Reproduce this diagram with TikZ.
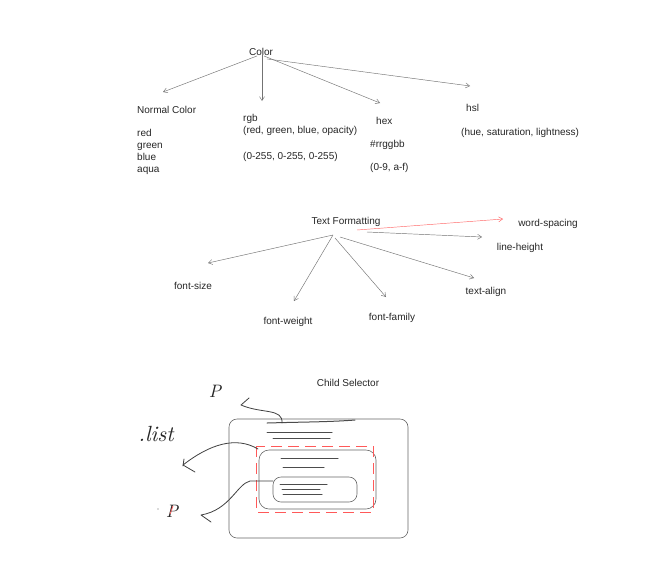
\documentclass[tikz,border=0pt]{standalone}
\usepackage{fontspec}
\setmainfont{Liberation Sans}
\newfontfamily\handfont{lmroman10-italic.otf}
\usetikzlibrary{arrows.meta}
\begin{document}
\begin{tikzpicture}[x=1pt,y=-1pt,
  lbl/.style={inner sep=0pt,font=\fontsize{10}{12}\selectfont,text=black!85,text height=7.5pt,text depth=2pt},
  lblw/.style={lbl,anchor=west},
  arr/.style={draw=black!55,line width=0.45pt,-{Straight Barb[length=4pt,width=5pt,line width=0.45pt]}},
  redarr/.style={arr,draw=red!60},
  sk/.style={draw=black!60,line width=0.6pt,rounded corners=8pt},
  skline/.style={draw=black!70,line width=1pt,line cap=round},
  hand/.style={draw=black!75,line width=0.8pt,line cap=round,line join=round},
  handtxt/.style={inner sep=0pt,font=\fontsize{22}{22}\selectfont\handfont,text=black!85}]
\useasboundingbox (0,0) rectangle (666,574);
\fill[white] (0,0) rectangle (666,574);

% ---------- Color ----------
\node[lbl] (color) at (261,53) {Color};
\node[lblw] (normal) at (137,111) {Normal Color};
\node[lblw] (red) at (137,134) {red};
\node[lblw] (green) at (137,146) {green};
\node[lblw] (blue) at (137,158) {blue};
\node[lblw] (aqua) at (137,170) {aqua};
\node[lblw] (rgb) at (243,119) {rgb};
\node[lblw] (rgbargs) at (243,131) {(red, green, blue, opacity)};
\node[lblw] (rgbrange) at (243,157) {(0-255, 0-255, 0-255)};
\node[lblw] (hex) at (376,122) {hex};
\node[lblw] (hexfmt) at (370,145) {\#rrggbb};
\node[lblw] (hexrange) at (370,168) {(0-9, a-f)};
\node[lblw] (hsl) at (466,109) {hsl};
\node[lblw] (hslargs) at (461,133) {(hue, saturation, lightness)};

\coordinate (e-normal) at (163,92);
\coordinate (e-rgb) at (262,101);
\coordinate (e-hex) at (380,103);
\coordinate (e-hsl) at (470,86);
\draw[arr] ([xshift=-4pt,yshift=2pt]color.south) -- (e-normal);
\draw[arr] ([xshift=1pt,yshift=3pt]color.south) -- (e-rgb);
\draw[arr] ([xshift=3pt,yshift=2pt]color.south) -- (e-hex);
\draw[arr] ([xshift=6pt,yshift=-1pt]color.south) -- (e-hsl);

% ---------- Text Formatting ----------
\node[lbl] (tf) at (346,222) {Text Formatting};
\node[lbl] (fsize) at (193,287) {font-size};
\node[lbl] (fweight) at (288,322) {font-weight};
\node[lbl] (ffamily) at (392,318) {font-family};
\node[lbl] (talign) at (486,292) {text-align};
\node[lbl] (lheight) at (520,248) {line-height};
\node[lbl] (wspacing) at (548,224) {word-spacing};

\coordinate (tfhub) at (333,235);
\coordinate (lh-s) at (367,232);
\coordinate (ws-s) at (357,230);
\coordinate (e-fsize) at (208,263);
\coordinate (e-fweight) at (294,301);
\coordinate (e-ffamily) at (386,297);
\coordinate (e-talign) at (474,278);
\coordinate (e-lheight) at (482,237);
\coordinate (e-wspacing) at (503,219);
\draw[arr] (tfhub) -- (e-fsize);
\draw[arr] (tfhub) -- (e-fweight);
\draw[arr] ([shift={(2,3)}]tfhub) -- (e-ffamily);
\draw[arr] ([shift={(7,2)}]tfhub) -- (e-talign);
\draw[arr] (lh-s) -- (e-lheight);
\draw[redarr] (ws-s) -- (e-wspacing);

% ---------- Child Selector ----------
\node[lbl] (child) at (348,384) {Child Selector};

% sketch boxes
\draw[sk] (229,419) rectangle (408,538);
\draw[sk,rounded corners=10pt] (259,450) rectangle (376,509);
\draw[draw=red!65,line width=0.7pt,dash pattern=on 11pt off 6pt] (256,446) rectangle (373,512);
\draw[sk] (273,477) rectangle (357,502);

% text lines
\draw[skline] (267,423) .. controls (300,422) and (330,422) .. (355,420);
\draw[skline] (267,432) -- (332,432);
\draw[skline] (273,438) -- (330,438);
\draw[skline] (281,458) -- (338,458);
\draw[skline] (283,467) -- (324,467);
\draw[skline] (280,484) -- (327,484);
\draw[skline] (282,489) -- (320,489);
\draw[skline] (283,494) -- (322,494);

% handwritten arrows
\draw[hand] (282,423) .. controls (283,408) and (262,414) .. (241,405) -- (249,398);
\draw[hand] (258,449) .. controls (236,436) and (210,444) .. (183,465) -- (195,472);
\draw[hand] (184,459) -- (183,466);
\draw[hand] (273,481) -- (250,481) .. controls (237,484) and (230,510) .. (201,515) -- (211,522);

% handwritten labels
\node[handtxt] (list) at (156,434) {.list};
\node[handtxt,font=\fontsize{18}{18}\selectfont\handfont] (p1) at (215,391) {P};
\node[handtxt,font=\fontsize{18}{18}\selectfont\handfont] (p2) at (172,511) {P};
\fill[black!60] (158,509) circle (0.6pt);
\draw[red!60,line width=0.8pt] (170,514) -- (173,506);
\end{tikzpicture}
\end{document}
